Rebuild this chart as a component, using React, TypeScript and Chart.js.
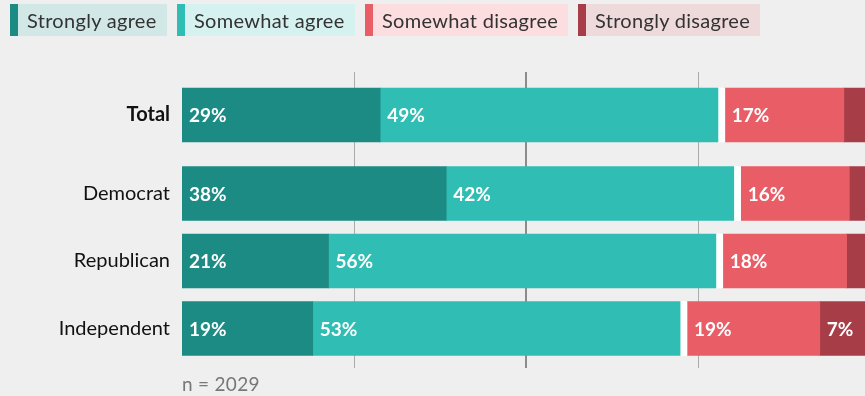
import React, { useEffect, useRef } from "react";
import { Chart, registerables } from "chart.js";

Chart.register(...registerables);

// ---- data ----
const categories = ["Total", "Democrat", "Republican", "Independent"];
const seriesNames = ["Strongly agree", "Somewhat agree", "Somewhat disagree", "Strongly disagree"];
const stronglyAgree = [28.8, 38.4, 21.3, 19.0];
const somewhatAgree = [49.1, 41.8, 56.3, 53.4];
const somewhatDisagree = [17.3, 15.8, 18.0, 19.3];
const stronglyDisagree = [5, 4, 5, 7];
const xGridTicks = [25, 50, 75];
const sampleNote = "n = 2029";

// ---- layout / style ----
const ROW_POS = [0, 1.163, 2.163, 3.163];
const GAP = 1;
const COLORS = ["#1b8b84", "#30bdb3", "#e85d66", "#a63d47"];
const TINTS = ["#d1e8e6", "#d6f2f0", "#fcdde0", "#eed9db"];
const LEGEND_WIDTHS = [157, 178, 203, 182];
const FONT = "Lato, 'Open Sans', sans-serif";
const BG = "#efefef";

const toPoints = (vals: number[]) => vals.map((v, i) => ({ x: v, y: ROW_POS[i] }));

const valueLabels = {
  id: "valueLabels",
  afterDatasetsDraw(chart: any) {
    const { ctx } = chart;
    ctx.save();
    ctx.font = `bold 19px ${FONT}`;
    ctx.fillStyle = "#ffffff";
    ctx.textBaseline = "middle";
    ctx.textAlign = "left";
    chart.data.datasets.forEach((ds: any, di: number) => {
      if (ds.isGap) return;
      const meta = chart.getDatasetMeta(di);
      meta.data.forEach((el: any, i: number) => {
        const v = ds.data[i].x;
        if (v < 6) return;
        ctx.fillText(Math.round(v) + "%", el.base + 7, el.y + 1);
      });
    });
    ctx.restore();
  },
};

export default function App() {
  const canvasRef = useRef<HTMLCanvasElement | null>(null);

  useEffect(() => {
    if (!canvasRef.current) return;
    const seriesValues = [stronglyAgree, somewhatAgree, somewhatDisagree, stronglyDisagree];
    const mk = (i: number) => ({
      label: seriesNames[i],
      data: toPoints(seriesValues[i]),
      backgroundColor: COLORS[i],
      borderWidth: 0,
      barThickness: 54,
    });
    const gap = {
      label: "gap",
      isGap: true,
      data: toPoints(categories.map(() => GAP)),
      backgroundColor: "#ffffff",
      borderWidth: 0,
      barThickness: 54,
    };
    const chart = new Chart(canvasRef.current, {
      type: "bar",
      data: { datasets: [mk(0), mk(1), gap as any, mk(2), mk(3)] },
      options: {
        indexAxis: "y",
        animation: false,
        responsive: false,
        layout: { padding: { top: 72, bottom: 28, left: 0, right: 0 } },
        plugins: { legend: { display: false }, tooltip: { enabled: false } },
        scales: {
          x: {
            type: "linear",
            stacked: true,
            offset: false,
            min: 0,
            max: (865 - 182) / 6.88,
            afterBuildTicks: (scale: any) => {
              scale.ticks = xGridTicks.map((v) => ({ value: v }));
            },
            ticks: { display: false },
            border: { display: false },
            grid: {
              drawTicks: false,
              color: (c: any) => (c.tick && c.tick.value === 50 ? "#8c8c8c" : "#ababab"),
              lineWidth: (c: any) => (c.tick && c.tick.value === 50 ? 2 : 1),
            },
          },
          y: {
            type: "linear",
            stacked: true,
            reverse: true,
            offset: false,
            min: -0.637,
            max: 3.748,
            afterBuildTicks: (scale: any) => {
              scale.ticks = ROW_POS.map((v) => ({ value: v }));
            },
            afterFit: (scale: any) => {
              scale.width = 182;
            },
            ticks: {
              autoSkip: false,
              padding: 12,
              color: "#111111",
              callback: (_v: any, i: number) => categories[i],
              font: (c: any) => ({ family: FONT, size: 20, weight: c.index === 0 ? "bold" : "normal" }),
            },
            grid: { display: false, offset: false, drawTicks: false },
            border: { display: false },
          },
        },
      } as any,
      plugins: [valueLabels],
    });
    return () => chart.destroy();
  }, []);

  return (
    <div
      style={{
        position: "absolute",
        left: 0,
        top: 0,
        width: 865,
        height: 396,
        background: BG,
        overflow: "hidden",
        fontFamily: FONT,
      }}
    >
      <canvas ref={canvasRef} width={865} height={396} style={{ position: "absolute", left: 0, top: 0, display: "block" }} />
      <div style={{ position: "absolute", left: 10, top: 4, display: "flex", gap: 10 }}>
        {seriesNames.map((n, i) => (
          <div
            key={n}
            style={{
              boxSizing: "border-box",
              width: LEGEND_WIDTHS[i],
              height: 32,
              lineHeight: "32px",
              background: TINTS[i],
              borderLeft: `8px solid ${COLORS[i]}`,
              paddingLeft: 9,
              fontSize: 20,
              letterSpacing: 0.3,
              color: "#333333",
              whiteSpace: "nowrap",
            }}
          >
            {n}
          </div>
        ))}
      </div>
      <div style={{ position: "absolute", left: 182, top: 373, fontSize: 19, lineHeight: "22px", letterSpacing: 0.3, color: "#777777" }}>
        {sampleNote}
      </div>
    </div>
  );
}
